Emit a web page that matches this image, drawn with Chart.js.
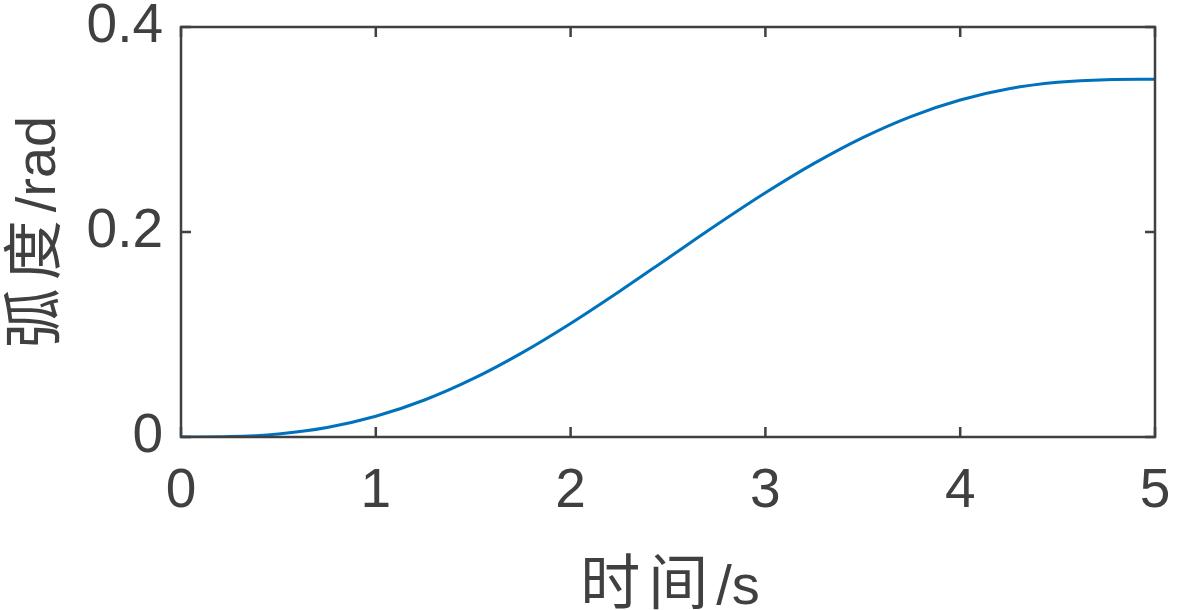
<!DOCTYPE html>
<html>
<head>
<meta charset="utf-8">
<script src="https://cdn.jsdelivr.net/npm/chart.js@4/dist/chart.umd.min.js"></script>
<style>
  html, body { margin: 0; padding: 0; background: #fff; }
  #wrap { width: 1181px; height: 610px; position: relative; }
</style>
</head>
<body>
<div id="wrap"><canvas id="chart"></canvas></div>
<script>
// values
const times = [0, 0.25, 0.5, 0.75, 1, 1.25, 1.5, 1.75, 2, 2.25, 2.5, 2.75, 3, 3.25, 3.5, 3.75, 4, 4.25, 4.5, 4.75, 5];
const angle = [0, 0.0004, 0.0030, 0.0093, 0.0202, 0.0361, 0.0569, 0.0821, 0.1108, 0.1420, 0.1745,
               0.2070, 0.2382, 0.2669, 0.2921, 0.3129, 0.3288, 0.3397, 0.3460, 0.3486, 0.349];
const xTicks = [0, 1, 2, 3, 4, 5];
const yTicks = [0, 0.2, 0.4];
const xTitle = ['时间', '/s'];
const yTitle = ['弧度', '/rad'];

const axisColor = '#404040';
const latinFont = 'Arial, "Liberation Sans", sans-serif';
const cjkFont = '"Noto Sans CJK SC", sans-serif';

// draws a title made of a CJK part (spaced out like SimSun) and a latin part
function drawTitle(ctx, parts, cx, baseY, angleRad) {
  ctx.save();
  ctx.translate(cx, baseY);
  ctx.rotate(angleRad);
  ctx.fillStyle = axisColor;
  ctx.textBaseline = 'alphabetic';
  ctx.textAlign = 'left';
  ctx.font = '60px ' + cjkFont;
  ctx.letterSpacing = '8px';
  const w1 = ctx.measureText(parts[0]).width;
  ctx.font = '56px ' + latinFont;
  ctx.letterSpacing = '0px';
  const w2 = ctx.measureText(parts[1]).width;
  const start = -(w1 + w2) / 2;
  ctx.font = '60px ' + cjkFont;
  ctx.letterSpacing = '8px';
  ctx.fillText(parts[0], start, 0);
  ctx.font = '56px ' + latinFont;
  ctx.letterSpacing = '0px';
  ctx.fillText(parts[1], start + w1, 0);
  ctx.restore();
}

// matlab style box with inward ticks, plus axis titles
const boxPlugin = {
  id: 'box',
  afterDatasetsDraw(chart) {
    const { ctx, chartArea: a, scales } = chart;
    ctx.save();
    ctx.strokeStyle = axisColor;
    ctx.lineWidth = 2.5;
    ctx.strokeRect(a.left, a.top, a.right - a.left, a.bottom - a.top);
    const len = 10;
    ctx.beginPath();
    xTicks.forEach(v => {
      const x = scales.x.getPixelForValue(v);
      ctx.moveTo(x, a.bottom); ctx.lineTo(x, a.bottom - len);
      ctx.moveTo(x, a.top); ctx.lineTo(x, a.top + len);
    });
    yTicks.forEach(v => {
      const y = scales.y.getPixelForValue(v);
      ctx.moveTo(a.left, y); ctx.lineTo(a.left + len, y);
      ctx.moveTo(a.right, y); ctx.lineTo(a.right - len, y);
    });
    ctx.stroke();
    ctx.restore();

    const midX = (a.left + a.right) / 2 + 2;
    const midY = (a.top + a.bottom) / 2;
    drawTitle(ctx, xTitle, midX, 604, 0);
    drawTitle(ctx, yTitle, 55, midY, -Math.PI / 2);
  }
};

new Chart(document.getElementById('chart'), {
  type: 'line',
  data: {
    datasets: [{
      data: times.map((t, i) => ({ x: t, y: angle[i] })),
      borderColor: '#0072BD',
      borderWidth: 3,
      pointRadius: 0,
      cubicInterpolationMode: 'monotone',
      fill: false
    }]
  },
  options: {
    responsive: true,
    maintainAspectRatio: false,
    animation: false,
    layout: { padding: { top: 27, right: 26, bottom: 0, left: 0 } },
    plugins: { legend: { display: false }, tooltip: { enabled: false } },
    scales: {
      x: {
        type: 'linear',
        min: 0, max: 5,
        afterBuildTicks: s => { s.ticks = xTicks.map(v => ({ value: v })); },
        afterFit: s => { s.height = 173; s.paddingLeft = 0; s.paddingRight = 0; },
        grid: { display: false, drawTicks: false },
        border: { display: false },
        ticks: { color: axisColor, font: { family: latinFont, size: 55 }, padding: 22, maxRotation: 0 },
        title: { display: false }
      },
      y: {
        min: 0, max: 0.4,
        afterBuildTicks: s => { s.ticks = yTicks.map(v => ({ value: v })); },
        afterFit: s => { s.width = 181; s.paddingTop = 0; s.paddingBottom = 0; },
        grid: { display: false, drawTicks: false },
        border: { display: false },
        ticks: { color: axisColor, font: { family: latinFont, size: 55 }, padding: 18 },
        title: { display: false }
      }
    }
  },
  plugins: [boxPlugin]
});
</script>
</body>
</html>
